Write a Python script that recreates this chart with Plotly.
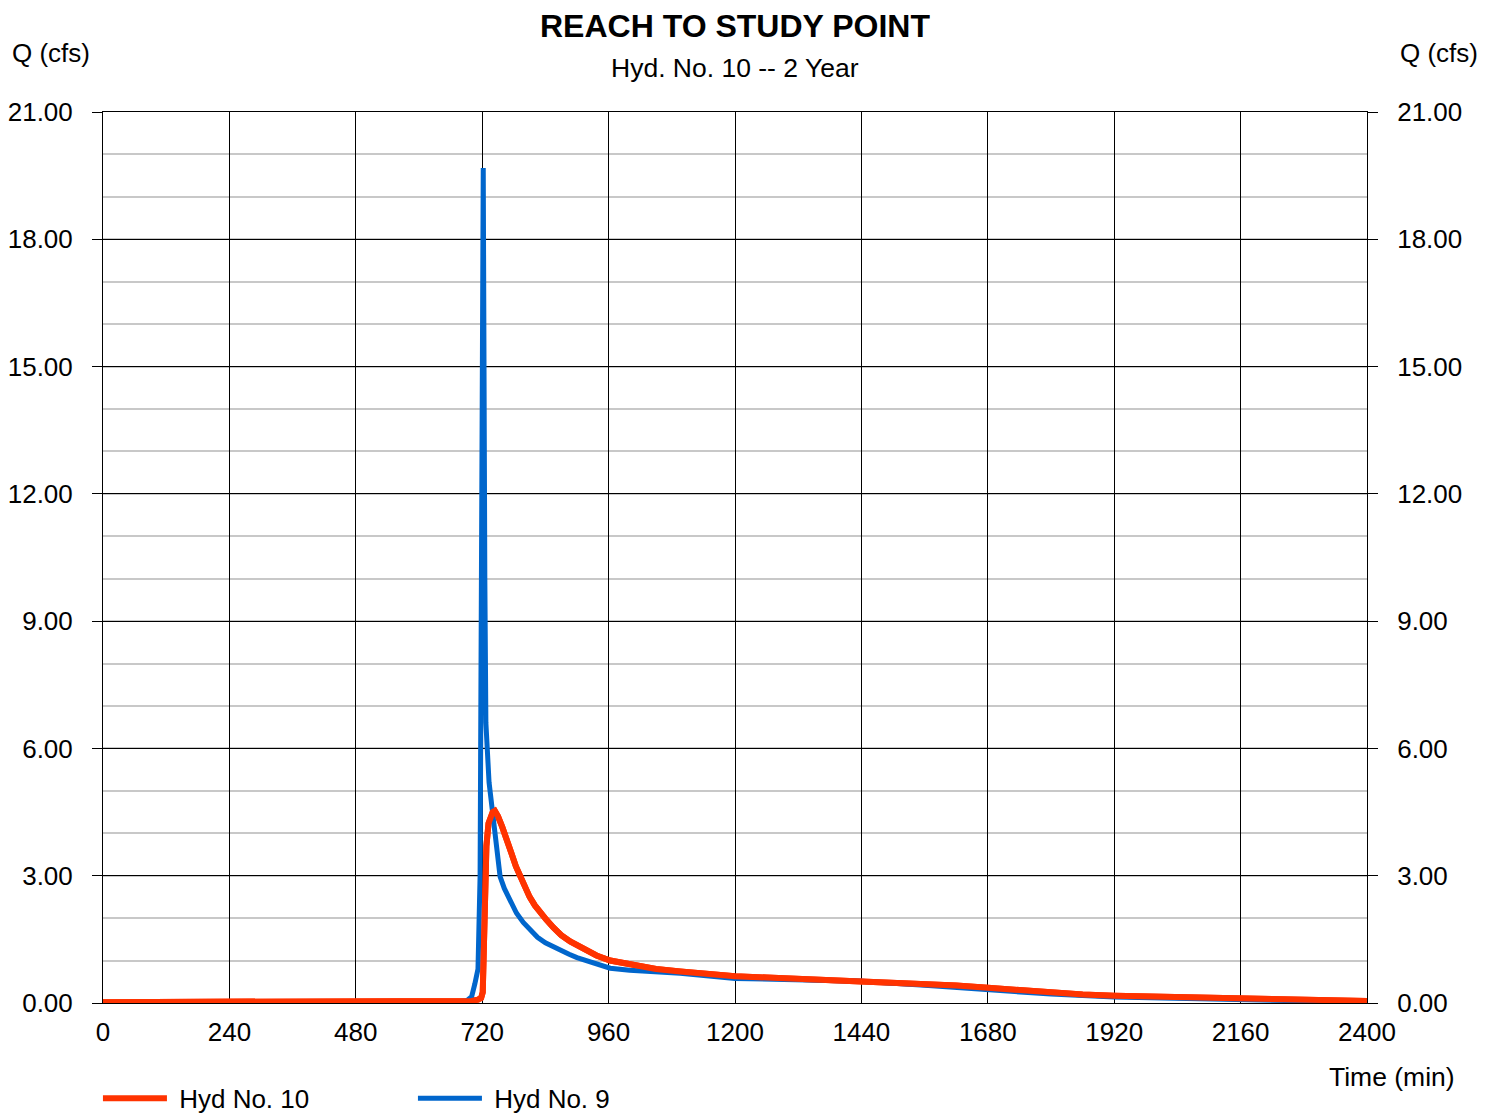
import plotly.graph_objects as go

# ---- data ----
time_hyd10 = [0, 600, 680, 700, 712, 718, 721, 723, 725, 728, 732, 736, 740, 744, 750, 758, 766, 775, 784, 792,
              800, 810, 820, 830, 842, 855, 870, 887, 906, 920, 937, 963, 1000, 1050, 1096, 1150, 1200, 1260,
              1320, 1380, 1440, 1500, 1560, 1620, 1680, 1740, 1800, 1860, 1920, 2040, 2160, 2280, 2400]
q_hyd10 = [0.02, 0.02, 0.03, 0.05, 0.08, 0.12, 0.25, 1.2, 2.9, 3.7, 4.23, 4.42, 4.5, 4.53, 4.4, 4.15, 3.9, 3.55, 3.22, 2.98,
           2.75, 2.5, 2.3, 2.13, 1.96, 1.78, 1.6, 1.45, 1.33, 1.22, 1.12, 1.0, 0.9, 0.8, 0.74, 0.68, 0.63, 0.6,
           0.57, 0.55, 0.53, 0.5, 0.46, 0.41, 0.36, 0.3, 0.25, 0.2, 0.17, 0.14, 0.11, 0.08, 0.05]

time_hyd9 = [0, 600, 660, 690, 700, 706, 712, 716, 722, 725, 727, 733, 741, 748, 754, 762, 772, 785, 798, 811, 825,
             840, 855, 868, 885, 900, 930, 963, 1000, 1096, 1200, 1320, 1440, 1560, 1680, 1800, 1920, 2040, 2160,
             2280, 2400]
q_hyd9 = [0.0, 0.0, 0.02, 0.05, 0.15, 0.45, 0.8, 3.0, 19.68, 10.0, 6.6, 5.2, 4.31, 3.6, 2.98, 2.7, 2.42, 2.12, 1.9, 1.72,
          1.55, 1.42, 1.32, 1.25, 1.15, 1.07, 0.95, 0.82, 0.77, 0.7, 0.58, 0.55, 0.51, 0.42, 0.31, 0.21, 0.14, 0.11,
          0.08, 0.05, 0.02]

x_ticks = [0, 240, 480, 720, 960, 1200, 1440, 1680, 1920, 2160, 2400]
y_ticks = [0, 3, 6, 9, 12, 15, 18, 21]
y_tick_labels = ["0.00", "3.00", "6.00", "9.00", "12.00", "15.00", "18.00", "21.00"]

title = "REACH TO STUDY POINT"
subtitle = "Hyd. No. 10 -- 2 Year"
series_names = ["Hyd No. 10", "Hyd No. 9"]

FONT = "Liberation Sans, Arial, sans-serif"
RED = "#ff3300"
BLUE = "#0066cc"

fig = go.Figure()
fig.add_trace(go.Scatter(x=time_hyd10, y=q_hyd10, mode="lines", name="\u00a0" + series_names[0],
                         line=dict(color=RED, width=6)))
fig.add_trace(go.Scatter(x=time_hyd9, y=q_hyd9, mode="lines", name="\u00a0" + series_names[1],
                         line=dict(color=BLUE, width=5)))
# redraw red on top like the reference
fig.add_trace(go.Scatter(x=time_hyd10, y=q_hyd10, mode="lines", name=series_names[0],
                         line=dict(color=RED, width=6), showlegend=False, hoverinfo="skip"))
# invisible trace for right axis
fig.add_trace(go.Scatter(x=time_hyd10, y=q_hyd10, mode="lines", yaxis="y2",
                         line=dict(color="rgba(0,0,0,0)", width=0), showlegend=False, hoverinfo="skip"))

fig.update_layout(
    width=1494, height=1114,
    margin=dict(l=95, r=135, t=104, b=119, autoexpand=False),
    paper_bgcolor="white", plot_bgcolor="white",
    font=dict(family=FONT, size=26, color="black"),
    showlegend=True,
    legend=dict(orientation="h", x=-0.004, xanchor="left", y=-0.0805, yanchor="top",
                font=dict(size=26, family=FONT), entrywidth=236, entrywidthmode="pixels",
                bgcolor="rgba(0,0,0,0)", itemwidth=64, tracegroupgap=0),
    xaxis=dict(range=[0, 2400], tickvals=x_ticks, ticks="", showgrid=True, gridcolor="black",
               gridwidth=1, zeroline=False, showline=True, linecolor="black", linewidth=1,
               mirror=True, tickfont=dict(size=26), ticklabelstandoff=6, automargin=False),
    yaxis=dict(range=[0, 21], tickvals=y_ticks, ticktext=y_tick_labels, ticks="outside",
               ticklen=10, tickcolor="black", showgrid=True, gridcolor="black", gridwidth=1,
               zeroline=False, showline=True, linecolor="black", linewidth=1,
               tickfont=dict(size=26), ticklabelstandoff=14, automargin=False,
               minor=dict(dtick=1, showgrid=True, gridcolor="#c8c8c8", gridwidth=2, ticks="")),
    yaxis2=dict(range=[0, 21], tickvals=y_ticks, ticktext=y_tick_labels, ticks="outside",
                ticklen=10, tickcolor="black", overlaying="y", side="right", showgrid=False,
                zeroline=False, showline=True, linecolor="black", linewidth=1,
                tickfont=dict(size=26), ticklabelstandoff=14, automargin=False),
    annotations=[
        dict(text="<b>" + title + "</b>", xref="paper", yref="paper", x=0.5, y=1.0, yshift=86,
             xanchor="center", yanchor="middle", showarrow=False, font=dict(size=32),
             height=32, borderpad=0),
        dict(text=subtitle, xref="paper", yref="paper", x=0.5, y=1.0, yshift=44,
             xanchor="center", yanchor="middle", showarrow=False, font=dict(size=26.5)),
        dict(text="Q (cfs)", xref="paper", yref="paper", x=0, xshift=-93, y=1.0, yshift=59,
             xanchor="left", yanchor="middle", showarrow=False, font=dict(size=26)),
        dict(text="Q (cfs)", xref="paper", yref="paper", x=1, xshift=113, y=1.0, yshift=59,
             xanchor="right", yanchor="middle", showarrow=False, font=dict(size=26)),
        dict(text="Time (min)", xref="paper", yref="paper", x=1, xshift=90, y=0, yshift=-74,
             xanchor="right", yanchor="middle", showarrow=False, font=dict(size=26.5)),
    ],
)

fig.write_html("out.html")
